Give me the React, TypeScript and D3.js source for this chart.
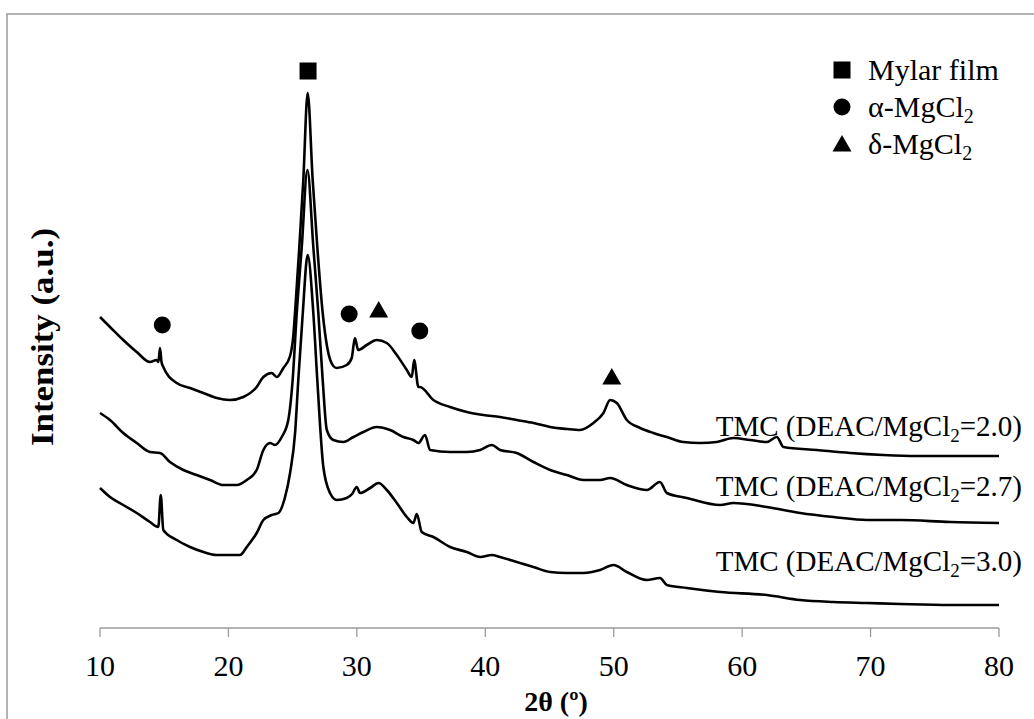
import React from "react";
import * as d3 from "d3";

// ---- Data (2θ in degrees, intensity in arbitrary units) ----
const xTicks = [10, 20, 30, 40, 50, 60, 70, 80];

const tmc20: [number, number][] = [
  [10.0, 311], [10.78, 301], [11.81, 288], [12.86, 276], [13.89, 266], [14.42, 268], [14.55, 266],
  [14.67, 280], [14.79, 266], [14.93, 261], [15.97, 245], [17.01, 240], [18.05, 235], [19.09, 230],
  [20.12, 228], [21.16, 231], [22.2, 241], [22.72, 251], [23.37, 255], [23.76, 251], [24.28, 260],
  [24.8, 272], [25.05, 292], [25.2, 318], [25.52, 381], [25.83, 448], [26.17, 535], [26.56, 448],
  [26.92, 381], [27.34, 315], [27.7, 280], [28.17, 262], [28.43, 260], [29.21, 263], [29.6, 270],
  [29.85, 290], [30.1, 278], [30.77, 283], [31.55, 288], [32.33, 285], [33.11, 273], [33.89, 258],
  [34.28, 251], [34.46, 268], [34.79, 241], [34.92, 241], [35.96, 228], [37.26, 221], [38.56, 216],
  [39.85, 213], [41.15, 211], [42.45, 208], [43.75, 205], [45.05, 201], [46.35, 199], [47.38, 198],
  [48.42, 205], [49.2, 215], [49.72, 228], [50.24, 225], [51.02, 208], [52.06, 200], [53.09, 195],
  [54.14, 191], [55.43, 186], [56.73, 185], [58.03, 186], [59.32, 190], [60.62, 188], [61.92, 186],
  [62.7, 191], [63.22, 181], [65.82, 178], [68.41, 175], [71.0, 173], [73.61, 172], [76.2, 172], [80.0, 172],
];

const tmc27: [number, number][] = [
  [10.0, 215], [10.78, 208], [11.81, 195], [12.86, 185], [13.89, 176], [14.67, 175], [15.45, 166],
  [16.49, 158], [17.53, 153], [18.57, 148], [19.6, 143], [20.65, 143], [21.43, 148], [22.2, 158],
  [22.72, 178], [23.24, 185], [23.63, 183], [24.15, 191], [24.66, 208], [25.0, 248], [25.32, 315],
  [25.71, 381], [26.15, 458], [26.61, 381], [27.0, 315], [27.34, 248], [27.66, 198], [28.17, 188],
  [28.95, 186], [29.73, 191], [30.51, 196], [31.55, 201], [32.59, 198], [33.62, 191], [34.4, 188],
  [34.79, 185], [35.31, 193], [35.7, 178], [37.26, 176], [38.56, 176], [39.6, 178], [40.51, 183],
  [41.15, 178], [42.45, 175], [43.75, 166], [45.05, 158], [46.35, 153], [47.64, 148], [48.94, 148],
  [49.72, 150], [51.02, 143], [52.58, 138], [53.6, 146], [54.14, 135], [55.69, 130], [58.29, 123],
  [59.32, 125], [61.92, 121], [64.52, 115], [67.11, 111], [69.71, 108], [72.31, 108], [76.2, 106], [80.0, 105],
];

const tmc30: [number, number][] = [
  [10.0, 140], [10.78, 131], [11.81, 123], [12.86, 115], [13.89, 106], [14.54, 101], [14.73, 133],
  [14.93, 98], [15.97, 88], [17.01, 81], [18.05, 76], [19.09, 73], [20.12, 73], [20.9, 73],
  [21.43, 81], [22.2, 95], [22.72, 108], [23.37, 113], [23.89, 115], [24.41, 131], [24.8, 155],
  [25.19, 195], [25.44, 248], [25.79, 315], [26.17, 373], [26.61, 315], [26.92, 248], [27.39, 161],
  [27.91, 135], [28.43, 128], [29.21, 130], [29.63, 134], [29.99, 141], [30.25, 135], [31.03, 140],
  [31.68, 145], [32.33, 138], [33.11, 125], [33.89, 111], [34.4, 105], [34.67, 114], [35.05, 96],
  [35.96, 91], [37.26, 81], [38.56, 76], [39.6, 71], [40.51, 73], [41.15, 71], [42.45, 66],
  [43.75, 61], [45.05, 56], [46.35, 55], [47.64, 55], [48.94, 58], [49.98, 63], [51.02, 56],
  [52.58, 48], [53.6, 50], [54.14, 43], [55.69, 40], [58.29, 36], [61.92, 33], [64.52, 28],
  [67.11, 26], [69.71, 25], [72.31, 24], [76.2, 23], [80.0, 23],
];

const seriesLabels = ["2.0", "2.7", "3.0"];
const labelIntensity = [192, 132, 57];

// peak markers: [2θ, intensity, kind]
const peakMarkers: [number, number, string][] = [
  [26.2, 557, "square"],
  [14.85, 303, "circle"],
  [29.4, 314, "circle"],
  [31.7, 318, "triangle"],
  [34.9, 297, "circle"],
  [49.85, 251, "triangle"],
];

const legendItems: [string, string, string][] = [
  ["square", "Mylar film", ""],
  ["circle", "α-MgCl", "2"],
  ["triangle", "δ-MgCl", "2"],
];

const FONT = "'Liberation Serif', 'Times New Roman', serif";

function Marker({ kind, x, y }: { kind: string; x: number; y: number }) {
  if (kind === "square") return <rect x={x - 8.5} y={y - 8.5} width={17} height={17} fill="#000" />;
  if (kind === "circle") return <circle cx={x} cy={y} r={8.5} fill="#000" />;
  return <path d={`M${x},${y - 9} L${x + 9.5},${y + 7.5} L${x - 9.5},${y + 7.5} Z`} fill="#000" />;
}

export default function App() {
  const W = 1034;
  const H = 719;
  const x = d3.scaleLinear().domain([10, 80]).range([100, 999]);
  const y = d3.scaleLinear().domain([0, 600]).range([628, 28]);
  const line = d3
    .line<[number, number]>()
    .x((d) => x(d[0]))
    .y((d) => y(d[1]))
    .curve(d3.curveMonotoneX);
  const series = [tmc20, tmc27, tmc30];

  return (
    <div style={{ position: "absolute", left: 0, top: 0 }}>
      <svg width={W} height={H} style={{ display: "block", background: "#fff" }} fontFamily={FONT}>
        {/* outer frame */}
        <path d={`M7,${H} V14 H${W}`} fill="none" stroke="#9a9a9a" strokeWidth={1.5} />

        {/* x axis */}
        <line x1={x(10)} x2={x(80)} y1={y(0)} y2={y(0)} stroke="#9a9a9a" strokeWidth={1.3} />
        {xTicks.map((t) => (
          <g key={t}>
            <line x1={x(t)} x2={x(t)} y1={y(0)} y2={y(0) + 9} stroke="#9a9a9a" strokeWidth={1.3} />
            <text x={x(t)} y={y(0) + 48} textAnchor="middle" fontSize={30} fill="#000">
              {t}
            </text>
          </g>
        ))}
        <text x={556} y={711} textAnchor="middle" fontSize={28} fontWeight="bold">
          2θ (º)
        </text>
        <text
          transform={`translate(53,${337}) rotate(-90)`}
          textAnchor="middle"
          fontSize={31}
          fontWeight="bold"
          textLength={218}
          lengthAdjust="spacingAndGlyphs"
        >
          Intensity (a.u.)
        </text>

        {/* curves */}
        {series.map((s, i) => (
          <path key={i} d={line(s) || ""} fill="none" stroke="#000" strokeWidth={2.6} strokeLinejoin="round" />
        ))}

        {/* series labels */}
        {seriesLabels.map((l, i) => (
          <text key={l} x={1022} y={y(labelIntensity[i])} textAnchor="end" fontSize={29} fill="#000">
            TMC (DEAC/MgCl<tspan fontSize={19} dy={6}>2</tspan>
            <tspan dy={-6}>={l})</tspan>
          </text>
        ))}

        {/* peak markers */}
        {peakMarkers.map((m, i) => (
          <Marker key={i} kind={m[2]} x={x(m[0])} y={y(m[1])} />
        ))}

        {/* legend */}
        {legendItems.map((it, i) => (
          <g key={it[1]}>
            <Marker kind={it[0]} x={842} y={70 + i * 37} />
            <text x={868} y={80 + i * 37} fontSize={30} fill="#000">
              {it[1]}
              {it[2] ? <tspan fontSize={20} dy={6}>{it[2]}</tspan> : null}
            </text>
          </g>
        ))}
      </svg>
    </div>
  );
}
